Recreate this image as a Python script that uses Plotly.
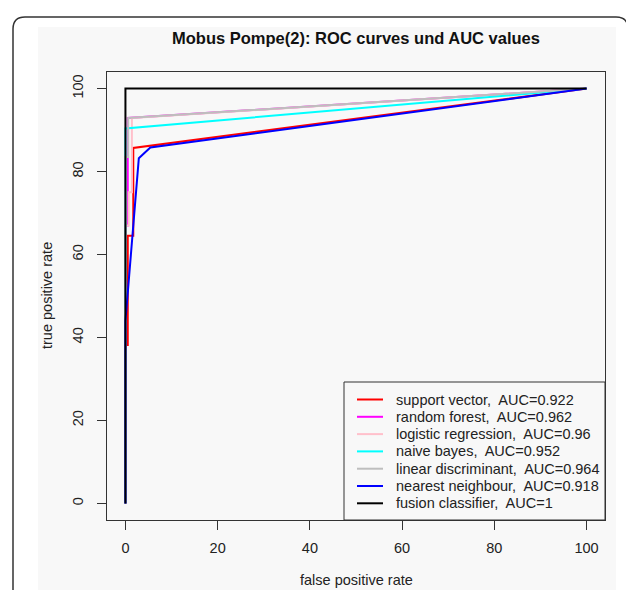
import plotly.graph_objects as go

# ---- data ----
names = [
    "support vector,  AUC=0.922",
    "random forest,  AUC=0.962",
    "logistic regression,  AUC=0.96",
    "naive bayes,  AUC=0.952",
    "linear discriminant,  AUC=0.964",
    "nearest neighbour,  AUC=0.918",
    "fusion classifier,  AUC=1",
]
colors = ["#ff0000", "#ff00ff", "#ffc0cb", "#00ffff", "#bebebe", "#0000ff", "#000000"]

svm_fpr = [0, 0, 0.5, 0.5, 1.7, 1.7, 100]
svm_tpr = [0, 38.2, 38.2, 64.5, 64.5, 85.7, 100]
rf_fpr = [0, 0, 0.5, 0.5, 100]
rf_tpr = [0, 67, 67, 92.9, 100]
lr_fpr = [0, 0, 0.7, 0.7, 1.4, 1.4, 100]
lr_tpr = [0, 67, 67, 75, 75, 92.9, 100]
nb_fpr = [0, 0, 100]
nb_tpr = [0, 90.4, 100]
lda_fpr = [0, 0, 0.6, 0.6, 100]
lda_tpr = [0, 83.5, 83.5, 92.9, 100]
nn_fpr = [0, 0, 2.9, 5.4, 100]
nn_tpr = [0, 44, 83.2, 85.8, 100]
fus_fpr = [0, 0, 100]
fus_tpr = [0, 100, 100]

fprs = [svm_fpr, rf_fpr, lr_fpr, nb_fpr, lda_fpr, nn_fpr, fus_fpr]
tprs = [svm_tpr, rf_tpr, lr_tpr, nb_tpr, lda_tpr, nn_tpr, fus_tpr]

tick_vals = [0, 20, 40, 60, 80, 100]

FONT = "Liberation Sans, Arial, Helvetica, sans-serif"
FS = 14.5
OFF = 8                      # page body margin of the browser
W, H = 634 - OFF, 590 - OFF  # figure size so that page edge matches
# plot box in reference-page pixels
L, R, T, B = 107, 605, 72, 520


def px(x):
    return (x - L) / (R - L)


def py(y):
    return (B - y) / (B - T)


fig = go.Figure()
for f, t, n, c in zip(fprs, tprs, names, colors):
    fig.add_trace(go.Scatter(x=f, y=t, mode="lines", name=n,
                             line=dict(color=c, width=2), cliponaxis=False,
                             showlegend=False))

axis_common = dict(
    range=[-4, 104], tickvals=tick_vals, ticks="outside", ticklen=9,
    tickwidth=1, tickcolor="#333", showline=True, linecolor="#333",
    linewidth=1, mirror=True, showgrid=False, zeroline=False,
    tickfont=dict(family=FONT, size=FS, color="#222"),
)

shapes = [
    dict(type="rect", xref="paper", yref="paper", layer="below",
         x0=px(38), x1=px(616), y0=py(600), y1=py(27),
         fillcolor="#f8f8f8", line=dict(width=0)),
    dict(type="path", xref="paper", yref="paper", layer="below",
         path=(f"M {px(13)},{py(600)} L {px(13)},{py(29)} "
               f"Q {px(13)},{py(17)} {px(25)},{py(17)} "
               f"L {px(616)},{py(17)} "
               f"Q {px(628)},{py(17)} {px(628)},{py(29)} "
               f"L {px(628)},{py(600)}"),
         line=dict(color="#333", width=1.5)),
    # legend box
    dict(type="rect", xref="paper", yref="paper",
         x0=px(344), x1=px(605), y0=py(520), y1=py(382),
         line=dict(color="#333", width=1), fillcolor="rgba(0,0,0,0)"),
]

annotations = [
    dict(text="false positive rate", xref="paper", yref="paper",
         x=0.5, y=py(580), showarrow=False, xanchor="center", yanchor="middle",
         font=dict(family=FONT, size=FS, color="#222")),
    dict(text="true positive rate", xref="paper", yref="paper",
         x=px(47), y=0.5, showarrow=False, textangle=-90,
         xanchor="center", yanchor="middle",
         font=dict(family=FONT, size=FS, color="#222")),
]

# legend rows (sample line + label)
for i, (n, c) in enumerate(zip(names, colors)):
    yy = 399.5 + i * 17.3
    shapes.append(dict(type="line", xref="paper", yref="paper",
                       x0=px(357), x1=px(383), y0=py(yy), y1=py(yy),
                       line=dict(color=c, width=2)))
    annotations.append(dict(text=n, xref="paper", yref="paper",
                            x=px(394), y=py(yy), showarrow=False,
                            xanchor="left", yanchor="middle",
                            font=dict(family=FONT, size=FS, color="#222")))

fig.update_layout(
    width=W, height=H, autosize=False,
    margin=dict(l=L - OFF, r=634 - R, t=T - OFF, b=590 - B),
    paper_bgcolor="white", plot_bgcolor="rgba(0,0,0,0)",
    title=dict(text="<b>Mobus Pompe(2): ROC curves und AUC values</b>",
               x=0.5, xref="paper", y=1 - (38 - OFF) / H, yref="container",
               xanchor="center", yanchor="middle",
               font=dict(family=FONT, size=16.5, color="#111")),
    xaxis=dict(**axis_common, ticklabelstandoff=6),
    yaxis=dict(**axis_common, tickangle=-90, ticklabelstandoff=8),
    showlegend=False,
    shapes=shapes,
    annotations=annotations,
)

fig.write_html("out.html")
